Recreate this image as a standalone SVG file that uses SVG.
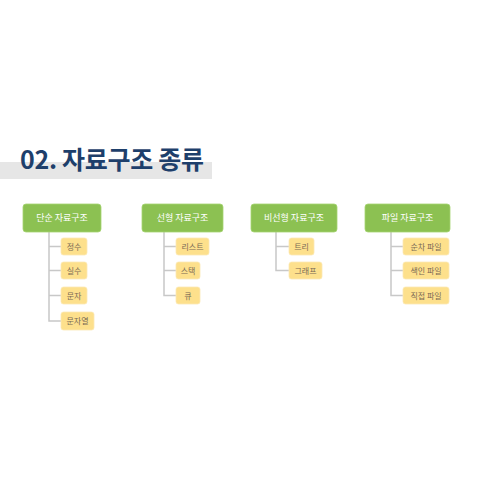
<svg xmlns="http://www.w3.org/2000/svg" width="500" height="500" viewBox="0 0 500 500">
<style>
.title{font-family:"Noto Sans CJK KR","Noto Sans",sans-serif;font-weight:700;font-size:25px;fill:#1e3f6b}
.g rect{fill:#8cc152;stroke:#a6d472;stroke-width:0.8}
.g text{font-family:"Noto Sans CJK KR",sans-serif;font-size:9px;fill:#ffffff;text-anchor:middle}
.y rect{fill:#fde08c;stroke:#fbe9b5;stroke-width:0.8}
.y text{font-family:"Noto Sans CJK KR",sans-serif;font-size:8px;fill:#7a6a55;text-anchor:middle}
.c path{fill:none;stroke:#c8c8c8;stroke-width:1.5}
</style>
<rect width="500" height="500" fill="#ffffff"/>
<rect x="0" y="162" width="212" height="17" fill="#e6e6e6"/>
<text class="title" x="20" y="169" textLength="184" lengthAdjust="spacing">02. 자료구조 종류</text>
<g class="c" id="connectors">
<path d="M49 232V321H61M49 246.5H61M49 270.5H61M49 295.5H61"/>
<path d="M164 232V295.5H176M164 246.5H176M164 270.5H176"/>
<path d="M276 232V270.5H289M276 246.5H289"/>
<path d="M391 232V295.5H403M391 246.5H403M391 270.5H403"/>
</g>
<g class="g" id="n1"><rect x="23" y="204" width="78" height="28" rx="3"/><text x="62" y="221">단순 자료구조</text></g>
<g class="g" id="n2"><rect x="142" y="204" width="81" height="28" rx="3"/><text x="182.5" y="221">선형 자료구조</text></g>
<g class="g" id="n3"><rect x="251" y="204" width="86" height="28" rx="3"/><text x="294" y="221">비선형 자료구조</text></g>
<g class="g" id="n4"><rect x="365" y="204" width="85" height="28" rx="3"/><text x="407.5" y="221">파일 자료구조</text></g>
<g class="y" id="n1a"><rect x="61" y="238" width="26" height="17" rx="2.5"/><text x="74" y="249.5">정수</text></g>
<g class="y" id="n1b"><rect x="61" y="262" width="26" height="17" rx="2.5"/><text x="74" y="273.5">실수</text></g>
<g class="y" id="n1c"><rect x="61" y="287" width="26" height="17" rx="2.5"/><text x="74" y="298.5">문자</text></g>
<g class="y" id="n1d"><rect x="61" y="312" width="33" height="18" rx="2.5"/><text x="77.5" y="324">문자열</text></g>
<g class="y" id="n2a"><rect x="176" y="238" width="33" height="17" rx="2.5"/><text x="192.5" y="249.5">리스트</text></g>
<g class="y" id="n2b"><rect x="176" y="262" width="24" height="17" rx="2.5"/><text x="188" y="273.5">스택</text></g>
<g class="y" id="n2c"><rect x="176" y="287" width="24" height="17" rx="2.5"/><text x="188" y="298.5">큐</text></g>
<g class="y" id="n3a"><rect x="289" y="238" width="25" height="17" rx="2.5"/><text x="301.5" y="249.5">트리</text></g>
<g class="y" id="n3b"><rect x="289" y="262" width="33" height="17" rx="2.5"/><text x="305.5" y="273.5">그래프</text></g>
<g class="y" id="n4a"><rect x="403" y="238" width="46" height="17" rx="2.5"/><text x="426" y="249.5">순차 파일</text></g>
<g class="y" id="n4b"><rect x="403" y="262" width="46" height="17" rx="2.5"/><text x="426" y="273.5">색인 파일</text></g>
<g class="y" id="n4c"><rect x="403" y="287" width="46" height="17" rx="2.5"/><text x="426" y="298.5">직접 파일</text></g>
</svg>
